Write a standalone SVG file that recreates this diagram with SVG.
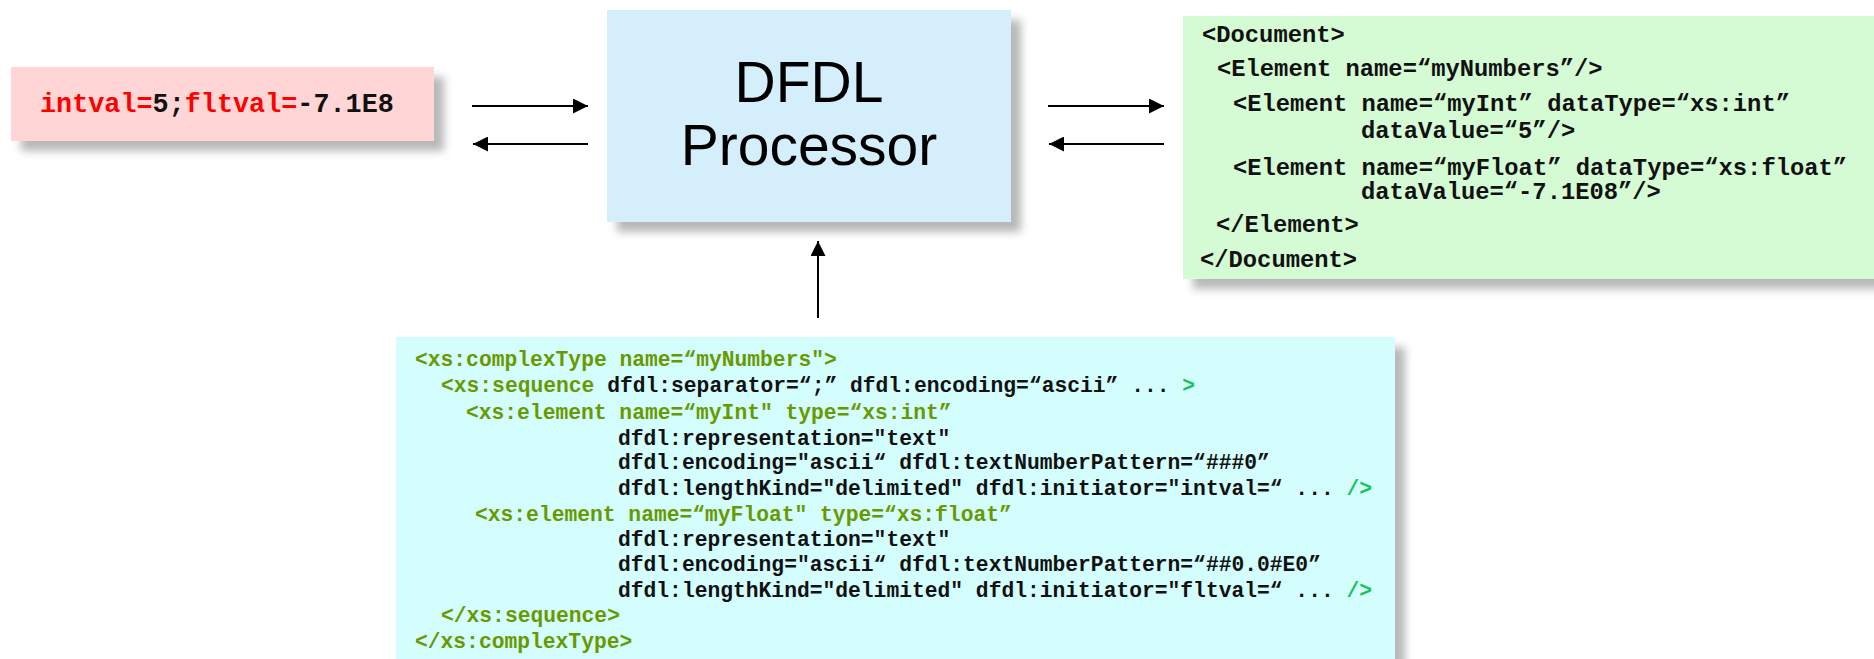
<svg xmlns="http://www.w3.org/2000/svg" width="1874" height="659" viewBox="0 0 1874 659">
<defs>
<filter id="sh" x="-10%" y="-10%" width="130%" height="140%">
<feDropShadow dx="10" dy="10" stdDeviation="4" flood-color="#000" flood-opacity="0.28"/>
</filter>
<marker id="ah" viewBox="0 0 15 15" refX="15" refY="7.5" markerWidth="15" markerHeight="15" markerUnits="userSpaceOnUse" orient="auto">
<path d="M0,0 L15,7.5 L0,15 z" fill="#000"/>
</marker>
</defs>
<style>
.mono{font-family:"Liberation Mono","Courier New",monospace;font-weight:bold;}
.sans{font-family:"Liberation Sans",Arial,sans-serif;}
.blk{fill:#111;}
.red{fill:#ff0000;}
.olv{fill:#689a00;}
.brt{fill:#18c45a;}
.conn line{stroke:#000;stroke-width:2;marker-end:url(#ah);}
</style>
<rect width="1874" height="659" fill="#fff"/>

<g id="input">
<rect x="11" y="67" width="423" height="74" fill="#ffd5d5" filter="url(#sh)"/>
<text class="mono" x="40" y="112" font-size="26.8"><tspan class="red">intval=</tspan><tspan class="blk">5;</tspan><tspan class="red">fltval=</tspan><tspan class="blk">-7.1E8</tspan></text>
</g>

<g id="processor">
<rect x="607" y="10" width="404" height="212" fill="#d4eefc" filter="url(#sh)"/>
<text class="sans" x="809" y="102" font-size="57" text-anchor="middle" fill="#000">DFDL</text>
<text class="sans" x="809" y="165" font-size="57" text-anchor="middle" fill="#000">Processor</text>
</g>

<g id="infoset">
<rect x="1183" y="16" width="700" height="263" fill="#d5fbd5" filter="url(#sh)"/>
<g class="mono blk" font-size="23.8">
<text x="1202" y="42">&lt;Document&gt;</text>
<text x="1217" y="76">&lt;Element name=“myNumbers”/&gt;</text>
<text x="1233" y="111">&lt;Element name=“myInt” dataType=“xs:int”</text>
<text x="1361" y="138">dataValue=“5”/&gt;</text>
<text x="1233" y="175">&lt;Element name=“myFloat” dataType=“xs:float”</text>
<text x="1361" y="199">dataValue=“-7.1E08”/&gt;</text>
<text x="1216" y="232">&lt;/Element&gt;</text>
<text x="1200" y="267">&lt;/Document&gt;</text>
</g>
</g>

<g id="schema">
<rect x="396" y="337" width="999" height="340" fill="#d4fdfe" filter="url(#sh)"/>
<g class="mono" font-size="21.3">
<text x="415" y="366"><tspan class="olv">&lt;xs:complexType name=“myNumbers"&gt;</tspan></text>
<text x="441" y="392"><tspan class="olv">&lt;xs:sequence</tspan><tspan class="blk"> dfdl:separator=“;” dfdl:encoding=“ascii” ... </tspan><tspan class="brt">&gt;</tspan></text>
<text x="466" y="419"><tspan class="olv">&lt;xs:element name=“myInt" type=“xs:int”</tspan></text>
<text x="618" y="445" class="blk">dfdl:representation="text"</text>
<text x="618" y="469" class="blk">dfdl:encoding="ascii“ dfdl:textNumberPattern=“###0”</text>
<text x="618" y="495"><tspan class="blk">dfdl:lengthKind="delimited" dfdl:initiator="intval=“ ... </tspan><tspan class="brt">/&gt;</tspan></text>
<text x="475" y="521"><tspan class="olv">&lt;xs:element name=“myFloat" type=“xs:float”</tspan></text>
<text x="618" y="546" class="blk">dfdl:representation="text"</text>
<text x="618" y="571" class="blk">dfdl:encoding="ascii“ dfdl:textNumberPattern=“##0.0#E0”</text>
<text x="618" y="597"><tspan class="blk">dfdl:lengthKind="delimited" dfdl:initiator="fltval=“ ... </tspan><tspan class="brt">/&gt;</tspan></text>
<text x="441" y="622"><tspan class="olv">&lt;/xs:sequence&gt;</tspan></text>
<text x="415" y="648"><tspan class="olv">&lt;/xs:complexType&gt;</tspan></text>
</g>
</g>

<g id="connectors" class="conn">
<line x1="472" y1="106" x2="588" y2="106"/>
<line x1="588" y1="144" x2="473" y2="144"/>
<line x1="1048" y1="106" x2="1164" y2="106"/>
<line x1="1164" y1="144" x2="1049" y2="144"/>
<line x1="818" y1="318" x2="818" y2="241"/>
</g>
</svg>
